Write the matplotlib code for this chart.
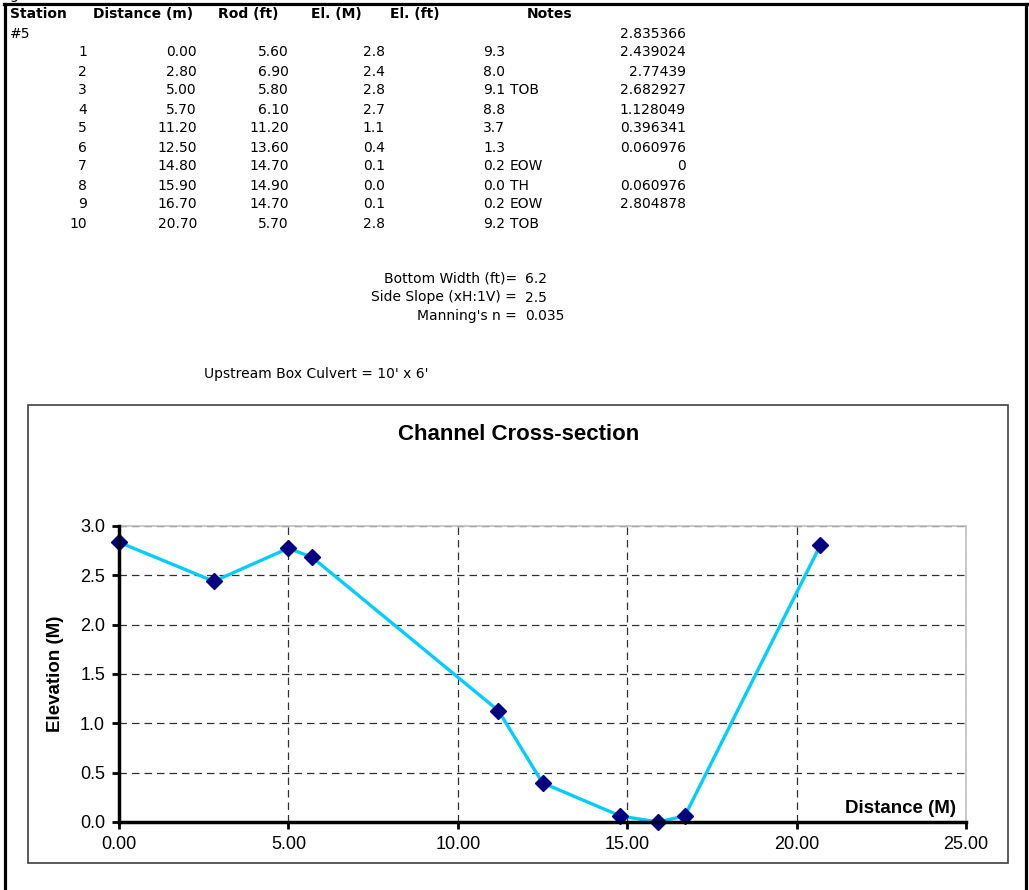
import matplotlib
matplotlib.use("Agg")
import matplotlib.pyplot as plt
from matplotlib.lines import Line2D
from matplotlib.patches import Rectangle

# survey table, station #5
station = [1, 2, 3, 4, 5, 6, 7, 8, 9, 10]
distance_m = [0.00, 2.80, 5.00, 5.70, 11.20, 12.50, 14.80, 15.90, 16.70, 20.70]
rod_ft = [5.60, 6.90, 5.80, 6.10, 11.20, 13.60, 14.70, 14.90, 14.70, 5.70]
el_m = [2.8, 2.4, 2.8, 2.7, 1.1, 0.4, 0.1, 0.0, 0.1, 2.8]
el_ft = [9.3, 8.0, 9.1, 8.8, 3.7, 1.3, 0.2, 0.0, 0.2, 9.2]
notes = ["", "", "TOB", "", "", "", "EOW", "TH", "EOW", "TOB"]
# relative elevation used for the chart (column starts on the "#5" row)
chart_el = [2.835366, 2.439024, 2.77439, 2.682927, 1.128049,
            0.396341, 0.060976, 0, 0.060976, 2.804878]

headers = ["Station", "Distance (m)", "Rod (ft)", "El. (M)", "El. (ft)", "Notes"]
header_x = [10, 93, 218, 311, 390, 527]

params = [("Bottom Width (ft)=", "6.2"),
          ("Side Slope (xH:1V) =", "2.5"),
          ("Manning's n =", "0.035")]
culvert = "Upstream Box Culvert = 10' x 6'"

x_ticks = [0, 5, 10, 15, 20, 25]
y_ticks = [0.0, 0.5, 1.0, 1.5, 2.0, 2.5, 3.0]

W, H = 1029, 890
fig = plt.figure(figsize=(W / 100, H / 100), dpi=100)


def fx(px):
    return px / W


def fy(py):
    return 1 - py / H


def cell(px, py, s, ha="left", bold=False, va="center"):
    fig.text(fx(px), fy(py), s, ha=ha, va=va, fontsize=10,
             family="DejaVu Sans", fontweight="bold" if bold else "normal")


def general(v):
    s = f"{v:.6f}".rstrip("0").rstrip(".")
    return s if s else "0"


# sheet border
for seg in [([4, 1027], [4, 4]), ([5, 5], [4, H]), ([1026, 1026], [4, H])]:
    fig.add_artist(Line2D([fx(p) for p in seg[0]], [fy(p) for p in seg[1]],
                          color="black", lw=2.3))
# tail of the row above, cut off by the page edge
cell(9, -0.5, "g", va="baseline")

# table
row0 = 14.5
step = 19
for h, x in zip(headers, header_x):
    cell(x, row0, h, bold=True)
cell(10, row0 + step, "#5")
cell(686, row0 + step, general(chart_el[0]), ha="right")
for i in range(len(station)):
    y = row0 + step * (i + 2)
    cell(87, y, str(station[i]), ha="right")
    cell(197, y, f"{distance_m[i]:.2f}", ha="right")
    cell(289, y, f"{rod_ft[i]:.2f}", ha="right")
    cell(385, y, f"{el_m[i]:.1f}", ha="right")
    cell(505, y, f"{el_ft[i]:.1f}", ha="right")
    if notes[i]:
        cell(510, y, notes[i])
    if i + 1 < len(chart_el):
        cell(686, y, general(chart_el[i + 1]), ha="right")

for k, (lab, val) in enumerate(params):
    y = 279 + 18.5 * k
    cell(517, y, lab, ha="right")
    cell(525, y, val)
cell(204, 374, culvert)

# chart frame
fig.add_artist(Rectangle((fx(28), fy(863)), fx(1008) - fx(28), fy(405) - fy(863),
                         fill=False, edgecolor="#404040", lw=1.2))

ax = fig.add_axes([fx(119), fy(822), fx(966) - fx(119), fy(526) - fy(822)])
ax.plot(distance_m, chart_el, color="#00CCFF", lw=2.4, zorder=3)
ax.plot(distance_m, chart_el, ls="none", marker="D", ms=8,
        color="#000080", zorder=4, clip_on=False)

ax.set_xlim(0, 25)
ax.set_ylim(0, 3)
ax.set_xticks(x_ticks)
ax.set_xticklabels([f"{t:.2f}" for t in x_ticks])
ax.set_yticks(y_ticks)
ax.set_yticklabels([f"{t:.1f}" for t in y_ticks])
ax.tick_params(labelsize=13, length=5, width=2, direction="out", pad=5)
for lab in ax.get_xticklabels() + ax.get_yticklabels():
    lab.set_family("Liberation Sans")

ax.grid(True, ls=(0, (6, 4)), color="#303030", lw=0.9)
for s in ["left", "bottom"]:
    ax.spines[s].set_linewidth(2.5)
    ax.spines[s].set_zorder(5)
for s in ["top", "right"]:
    ax.spines[s].set_color("#c0c0c0")
    ax.spines[s].set_linewidth(1.2)

ax.text(0.988, 0.047, "Distance (M)", transform=ax.transAxes, ha="right",
        va="center", fontsize=13.5, fontweight="bold", family="Liberation Sans")
fig.text(fx(55), fy(674), "Elevation (M)", rotation=90, ha="center", va="center",
         fontsize=13.5, fontweight="bold", family="Liberation Sans")
fig.text(fx(519), fy(434), "Channel Cross-section", ha="center", va="center",
         fontsize=16, fontweight="bold", family="Liberation Sans")

fig.savefig("out.png", dpi=100)
